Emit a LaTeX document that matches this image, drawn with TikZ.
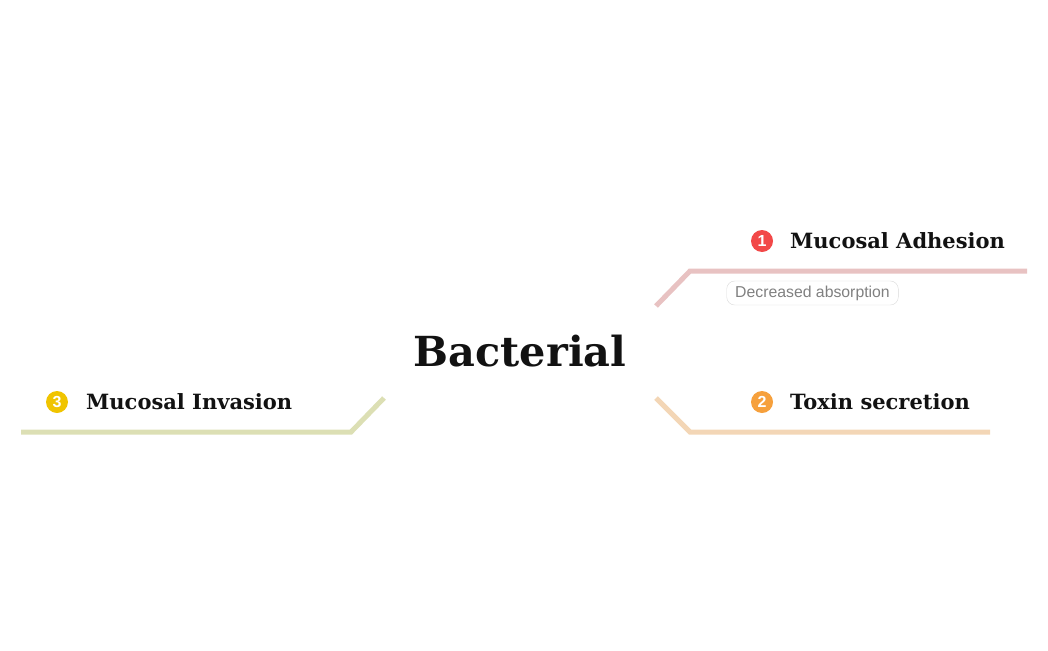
\documentclass[tikz,border=0pt]{standalone}
\usepackage{fontspec}
\usepackage{tikz}
\usetikzlibrary{positioning}
\setmainfont{DejaVu Serif}
\newfontfamily\labelfont{Liberation Sans}

\begin{document}
\begin{tikzpicture}[x=1pt,y=-1pt]
  \tikzset{
  	topic/.style={font=\bfseries\fontsize{21}{24}\selectfont, text=black!93, anchor=west, inner sep=0pt},
  	badge/.style={circle, minimum size=22pt, inner sep=0pt, text=white, font=\labelfont\bfseries\fontsize{16}{16}\selectfont},
  	branch/.style={line width=5pt},
  	note/.style={draw=black!15, rounded corners=8pt, text=black!50, font=\labelfont\fontsize{15.8}{17}\selectfont, minimum height=24pt, inner xsep=8.5pt},
  }
  \definecolor{adhesion}{HTML}{E8C2C2}
  \definecolor{toxin}{HTML}{F3D6B6}
  \definecolor{invasion}{HTML}{DCDFB4}
  \useasboundingbox (0,0) rectangle (1048,650);

  % central topic
  \node[font=\bfseries\fontsize{41.4}{48}\selectfont, text=black!93, inner sep=0pt] (bact) at (520,351) {Bacterial};

  \coordinate (a0) at (656,306); % adhesion branch start
  \coordinate (a1) at (690,271);
  \coordinate (a2) at (1027,271);
  \coordinate (t0) at (656,398); % toxin branch start
  \coordinate (t1) at (690,432);
  \coordinate (t2) at (990,432);
  \coordinate (i0) at (384,398); % invasion branch start
  \coordinate (i1) at (351,432);
  \coordinate (i2) at (21,432);

  % Draw the branches.
  \draw[branch, adhesion] (a0) -- (a1) -- (a2);
  \draw[branch, toxin] (t0) -- (t1) -- (t2);
  \draw[branch, invasion] (i0) -- (i1) -- (i2);

  % Badges and topic labels.
  \node[badge, fill={rgb,255:red,242;green,72;blue,72}] (b1) at (762,241) {1};
  \node[topic] (adh) at (790,241) {Mucosal Adhesion};
  \node[badge, fill={rgb,255:red,246;green,160;blue,60}] (b2) at (762,402) {2};
  \node[topic] (tox) at (790,402) {Toxin secretion};
  \node[badge, fill={rgb,255:red,240;green,196;blue,0}] (b3) at (57,402) {3};
  \node[topic] (inv) at (86,402) {Mucosal Invasion};

  % note under the first topic
  \node[note] (abs) at (812.5,293) {Decreased absorption};
\end{tikzpicture}
\end{document}
